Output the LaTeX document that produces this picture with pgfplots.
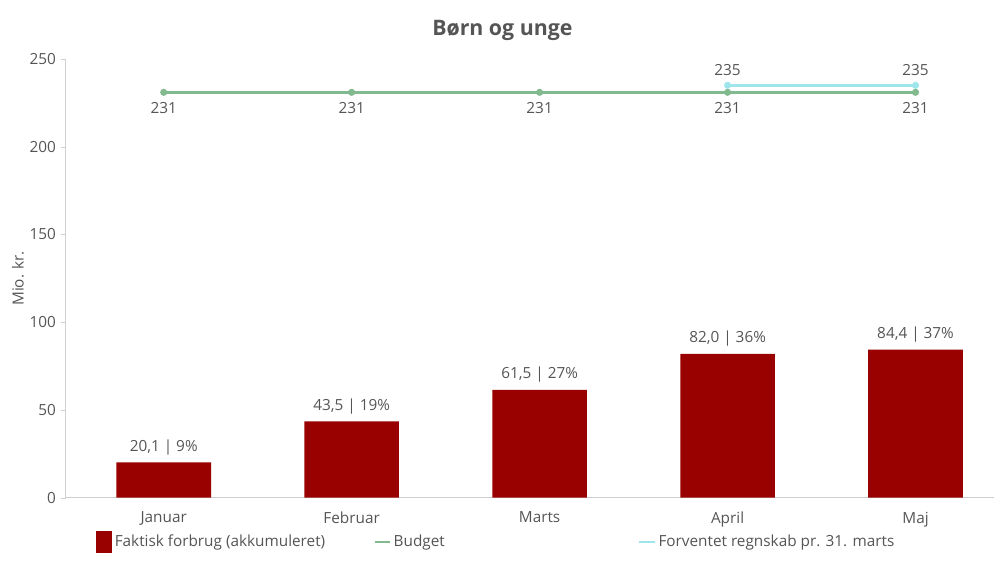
\documentclass[border=0pt]{standalone}
\usepackage{pgfplots}
\pgfplotsset{compat=1.18}
\usepackage{fontspec}
\setmainfont{Open Sans}
\definecolor{barred}{HTML}{990000}
\definecolor{budgetgreen}{HTML}{82B98F}
\definecolor{fcyan}{HTML}{9EE6EC}
\definecolor{txtgray}{HTML}{555555}
\definecolor{axgray}{HTML}{D0D0D0}
\begin{document}
\begin{tikzpicture}[x=0.75pt,y=0.75pt]
\begin{axis}[
  scale only axis,
  width=929*0.75pt, height=439*0.75pt,
  xmin=-0.52, xmax=4.42,
  ymin=0, ymax=250,
  ytick={0,50,100,150,200,250},
  xtick={0,1,2,3,4},
  xticklabels={Januar,Februar,Marts,April,Maj},
  axis x line*=bottom, axis y line*=left,
  axis line style={axgray, line width=0.8pt},
  x axis line style={-}, y axis line style={-},
  tick style={axgray},
  major tick length=4pt,
  xtick style={draw=none},
  ytick align=outside,
  ticklabel style={font=\fontsize{11.5}{13}\selectfont, text=txtgray},
  xticklabel style={yshift=-7pt},
  /pgf/number format/assume math mode=true,
  ylabel={Mio. kr.},
  ylabel style={font=\fontsize{11.5}{13}\selectfont, text=txtgray, at={(-48*0.75pt,0.5)}, anchor=center},
  title={\textbf{Børn og unge}},
  title style={font=\fontsize{16}{19}\selectfont, text=txtgray, at={(0.47,1)}, yshift=4pt, anchor=south},
  legend columns=3,
  legend style={at={(26*0.75pt,-30*0.75pt)}, anchor=north west, draw=none,
    font=\fontsize{11.5}{13}\selectfont, text=txtgray,
    /tikz/every odd column/.append style={column sep=0pt},
    /tikz/column 2/.style={column sep=34pt},
    /tikz/column 4/.style={column sep=143pt}},
  legend cell align=left,
  clip=false,
]
\addplot[ybar, bar width=71pt, fill=barred, draw=none,
  nodes near coords, point meta=explicit symbolic,
  every node near coord/.append style={font=\fontsize{11.5}{13}\selectfont, text=txtgray, yshift=2pt},
  area legend,
  legend image code/.code={\fill[barred] (0cm,-0.3cm) rectangle (0.42cm,0.3cm);}]
  table[meta=lab] {
  x y lab
  0 20.1 {20,1 | 9\%}
  1 43.5 {43,5 | 19\%}
  2 61.5 {61,5 | 27\%}
  3 82.0 {82,0 | 36\%}
  4 84.4 {84,4 | 37\%}
};
\addlegendentry{Faktisk forbrug (akkumuleret)}
\addplot[budgetgreen, line width=2pt, mark=*, mark size=1.6pt,
  nodes near coords, point meta=explicit symbolic,
  every node near coord/.append style={font=\fontsize{11.5}{13}\selectfont, text=txtgray, anchor=north, yshift=-3pt},
  legend image code/.code={\draw[budgetgreen, line width=2pt] (0cm,0cm) -- (0.4cm,0cm);}]
  table[meta=lab] {
  x y lab
  0 231 231
  1 231 231
  2 231 231
  3 231 231
  4 231 231
};
\addlegendentry{Budget}
\addplot[fcyan, line width=2pt, mark=*, mark size=1.6pt,
  nodes near coords, point meta=explicit symbolic,
  every node near coord/.append style={font=\fontsize{11.5}{13}\selectfont, text=txtgray, anchor=south, yshift=3pt},
  legend image code/.code={\draw[fcyan, line width=2pt] (0cm,0cm) -- (0.4cm,0cm);}]
  table[meta=lab] {
  x y lab
  3 235 235
  4 235 235
};
\addlegendentry{Forventet regnskab pr. 31. marts}
\end{axis}
\path[use as bounding box] (-66,-78) rectangle (929,498);
\end{tikzpicture}
\end{document}
